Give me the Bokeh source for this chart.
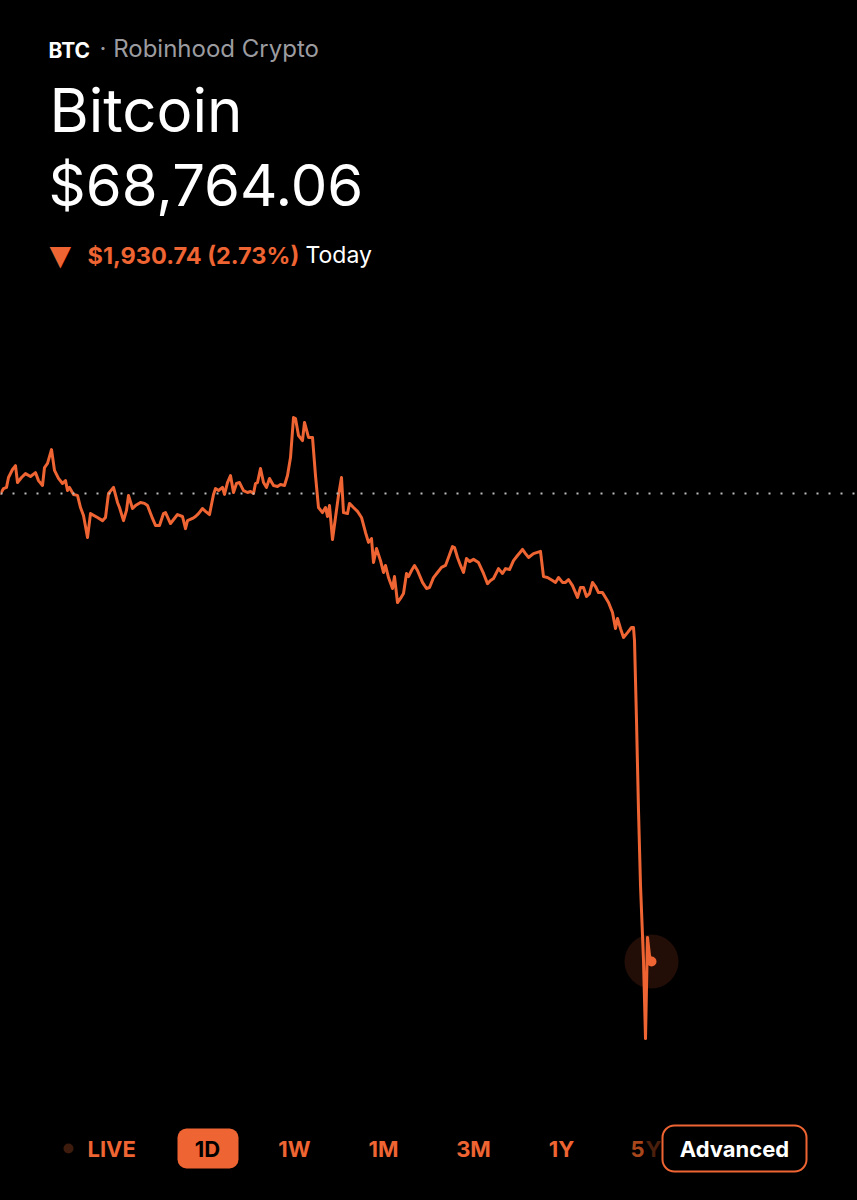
from bokeh.plotting import figure
from bokeh.models import ColumnDataSource, Range1d, Span, Label, BoxAnnotation
from bokeh.embed import file_html
from bokeh.resources import INLINE

# ---- data ----
symbol = "BTC"
exchange = "Robinhood Crypto"
name = "Bitcoin"
last_price = 68764.06
prev_close = 70694.80
change_abs = 1930.74
change_pct = 2.73
ranges = ["LIVE", "1D", "1W", "1M", "3M", "1Y", "5Y"]

t = [0, 3, 6, 8, 12, 15, 17, 21, 25, 30, 35, 38, 42, 44, 47, 51, 54, 58, 62, 65,
     67, 69, 73, 77, 80, 83, 87, 90, 97, 102, 105, 108, 113, 117, 119, 123, 126, 128,
     132, 135, 140, 144, 147, 152, 155, 159, 163, 165, 170, 177, 182, 185, 187, 192,
     195, 198, 202, 205, 209, 213, 215, 218, 222, 224, 227, 230, 233, 236, 239, 243,
     247, 250, 253, 255, 257, 260, 263, 266, 269, 273, 277, 280, 284, 287, 290, 293,
     295, 298, 302, 304, 308, 312, 315, 318, 322, 325, 327, 329, 332, 335, 338, 341,
     343, 347, 349, 353, 357, 361, 365, 368, 371, 373, 376, 380, 383, 385, 388, 392,
     394, 397, 400, 403, 406, 408, 411, 414, 417, 422, 426, 429, 433, 437, 441, 445,
     448, 452, 454, 457, 460, 463, 466, 469, 473, 478, 483, 487, 490, 493, 498, 502,
     505, 509, 513, 517, 522, 525, 528, 533, 540, 543, 547, 552, 555, 558, 562, 565,
     568, 572, 577, 580, 583, 586, 589, 592, 595, 598, 602, 605, 608, 612, 615, 617,
     620, 623, 627, 631, 633, 634, 636, 638, 640, 643, 645, 647, 649, 651]

price = [70695, 70715, 70720, 70761, 70794, 70810, 70740, 70761, 70777, 70765, 70781,
         70748, 70728, 70802, 70819, 70876, 70790, 70757, 70736, 70748, 70707, 70720,
         70691, 70687, 70637, 70604, 70513, 70612, 70596, 70583, 70596, 70695, 70720,
         70658, 70637, 70583, 70625, 70687, 70633, 70645, 70658, 70654, 70645, 70592,
         70563, 70563, 70612, 70616, 70571, 70608, 70600, 70550, 70583, 70592, 70600,
         70612, 70633, 70621, 70608, 70691, 70715, 70707, 70720, 70691, 70740, 70769,
         70699, 70736, 70740, 70707, 70699, 70703, 70695, 70736, 70740, 70798, 70740,
         70720, 70757, 70728, 70724, 70732, 70728, 70769, 70843, 71008, 71004, 70934,
         70913, 70988, 70926, 70926, 70769, 70637, 70616, 70637, 70600, 70645, 70505,
         70596, 70687, 70761, 70616, 70612, 70654, 70637, 70621, 70596, 70534, 70493,
         70509, 70410, 70468, 70418, 70369, 70398, 70348, 70303, 70352, 70245, 70262,
         70282, 70365, 70352, 70377, 70398, 70377, 70328, 70303, 70307, 70348, 70369,
         70390, 70398, 70431, 70476, 70472, 70431, 70398, 70369, 70427, 70414, 70423,
         70410, 70365, 70323, 70336, 70344, 70385, 70365, 70385, 70381, 70418, 70439,
         70464, 70447, 70431, 70447, 70456, 70352, 70348, 70336, 70328, 70348, 70328,
         70328, 70340, 70315, 70266, 70307, 70307, 70270, 70282, 70328, 70311, 70286,
         70286, 70266, 70245, 70204, 70138, 70179, 70138, 70101, 70121, 70142, 70142,
         70088, 69758, 69387, 69078, 68768, 68446, 68863, 68789, 68764.06]

ORANGE = "#EE6432"
W, H = 857, 1200

p = figure(width=W, height=H, output_backend="svg", toolbar_location=None,
           x_range=Range1d(0, 857), y_range=Range1d(67778.1, 72728.7),
           x_axis_location=None, y_axis_location=None, min_border=0)
p.background_fill_color = "black"
p.border_fill_color = "black"
p.outline_line_color = None
p.grid.visible = False

# previous close dotted reference
p.add_layout(Span(location=prev_close, dimension="width", line_color="#bcbcbc",
                  line_width=2, line_dash="2 10"))

src = ColumnDataSource(dict(t=t, price=price))
p.line("t", "price", source=src, line_color=ORANGE, line_width=3,
       line_join="round", line_cap="round")

end = ColumnDataSource(dict(t=[t[-1]], price=[price[-1]]))
p.scatter("t", "price", source=end, size=54, fill_color=ORANGE, fill_alpha=0.14,
          line_color=None)
p.scatter("t", "price", source=end, size=10, fill_color=ORANGE, line_color=None)

FONT = "Inter"

def lab(text, x, y, size, color, bold=False, align="left", font=FONT):
    p.add_layout(Label(text=text, x=x, y=H - (y - 0.4 * size), x_units="screen",
                       y_units="screen", text_font=font, text_font_size=f"{size}px",
                       text_color=color, text_font_style="bold" if bold else "normal",
                       text_align=align, text_baseline="alphabetic"))

def box(l, r, t_, b, fill, line, radius):
    p.add_layout(BoxAnnotation(left=l, right=r, top=H - t_, bottom=H - b,
                               left_units="screen", right_units="screen",
                               top_units="screen", bottom_units="screen",
                               fill_color=fill, fill_alpha=1 if fill else 0,
                               line_color=line, line_width=2, line_alpha=1 if line else 0,
                               border_radius=radius))

# header
lab(symbol, 48, 58, 21, "white", bold=True)
lab("· " + exchange, 99, 58, 24, "#9c9ca0")
lab(name, 49, 133, 60, "white")
lab(f"${last_price:,.2f}", 48, 208, 58, "white")
lab("▼", 49, 266, 28, ORANGE, font="DejaVu Sans")
lab(f"${change_abs:,.2f} ({change_pct:.2f}%)", 87, 264, 23.5, ORANGE, bold=True)
lab("Today", 305, 264, 23, "white")

# range selector
box(63, 73, 1143, 1153, "#3d1c0d", None, 5)
box(177, 238, 1128, 1168, ORANGE, None, 9)
box(662, 806, 1125, 1171, "black", ORANGE, 12)

BY = 1157
lab(ranges[0], 87, BY, 22, ORANGE, bold=True)
lab(ranges[1], 207, BY, 22, "black", bold=True, align="center")
lab(ranges[2], 294, BY, 22, ORANGE, bold=True, align="center")
lab(ranges[3], 383, BY, 22, ORANGE, bold=True, align="center")
lab(ranges[4], 473, BY, 22, ORANGE, bold=True, align="center")
lab(ranges[5], 561, BY, 22, ORANGE, bold=True, align="center")
lab(ranges[6][0], 630, BY, 22, "#a8461c", bold=True)
lab(ranges[6][1], 645, BY, 22, "#4a1f0c", bold=True)
lab("Advanced", 734, BY, 22, "white", bold=True, align="center")

html = file_html(p, INLINE)
html = html.replace("</head>", "<style>html,body{background:#000;}</style></head>", 1)
open("out.html", "w").write(html)
